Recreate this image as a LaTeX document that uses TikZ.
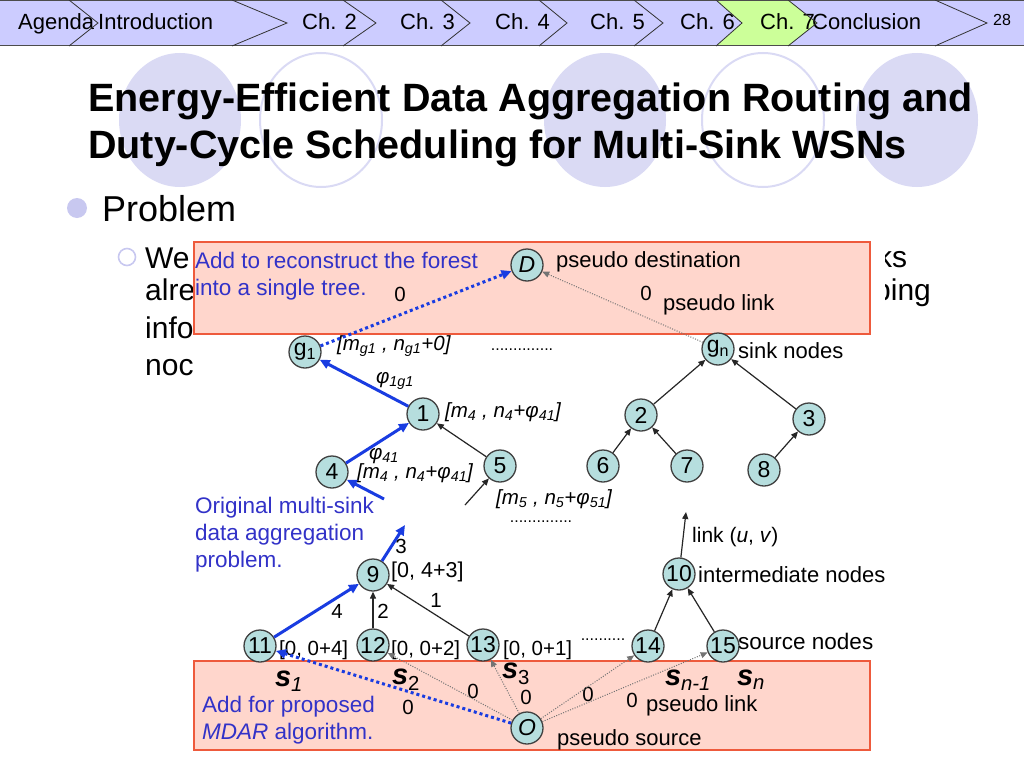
\documentclass[tikz,border=0pt]{standalone}
\usepackage{fontspec}
\setmainfont{Liberation Sans}
\usepackage{tikz}
\usetikzlibrary{arrows.meta,positioning}
\usepackage{xcolor}

\definecolor{navbg}{RGB}{204,204,255}
\definecolor{navgreen}{RGB}{204,255,153}
\definecolor{lav}{RGB}{218,218,244}
\definecolor{lavdot}{RGB}{200,200,240}
\definecolor{boxpink}{RGB}{255,214,204}
\definecolor{boxred}{RGB}{238,90,60}
\definecolor{nodefill}{RGB}{182,222,222}
\definecolor{noteblue}{RGB}{50,50,200}
\definecolor{linkblue}{RGB}{25,60,225}

\newcommand{\fsz}[1]{\fontsize{#1}{#1}\selectfont}

\begin{document}
\begin{tikzpicture}[x=1pt, y=-1pt,
  navtxt/.style={anchor=base west, inner sep=0pt, font=\fsz{22}},
  chev/.style={draw=black!80, line width=0.8pt},
  title/.style={anchor=base west, inner sep=0pt, font=\fsz{39.5}\bfseries},
  body/.style={anchor=base west, inner sep=0pt, font=\fsz{30}},
  nd/.style={circle, draw=black!75, line width=1.3pt, fill=nodefill,
    minimum size=32pt, inner sep=0pt, font=\fsz{23}},
  lbl/.style={inner sep=1pt, font=\fsz{20.5}},
  txt/.style={anchor=west, inner sep=1pt, font=\fsz{22}},
  note/.style={anchor=west, align=left, inner sep=0pt, text=noteblue,
    font=\fontsize{22.5}{27}\selectfont},
  slab/.style={inner sep=0pt, font=\fsz{29}\bfseries\itshape},
  tree/.style={-{Triangle[length=7pt,width=6pt]}, line width=1.2pt, black!85},
  mdar/.style={-{Triangle[length=10pt,width=9pt]}, line width=3pt, linkblue},
  pblue/.style={mdar, dash pattern=on 3pt off 3pt},
  plink/.style={-{Triangle[length=7pt,width=6pt]}, black!55, line width=1pt,
    dash pattern=on 1pt off 1.5pt},
  pinkbox/.style={fill=boxpink, draw=boxred, line width=1.3pt}]

\useasboundingbox (0,0) rectangle (1024,768);

% navigation bar
\fill[navbg] (0,0) rectangle (1024,46);
\fill[navgreen] (716,0) -- (742,23) -- (716,46) -- (788,46) -- (817,23) -- (788,0) -- cycle;
\draw[black!70, line width=1pt] (0,0.5) -- (1024,0.5) (0,46) -- (1024,46);
\foreach \x/\t/\nm in {18/Agenda/agenda, 98/Introduction/intro, 302/Ch. 2/ch2,
    400/Ch. 3/ch3, 495/Ch. 4/ch4, 590/Ch. 5/ch5, 680/Ch. 6/ch6, 760/Ch. 7/ch7,
    812/Conclusion/concl}
  \node[navtxt] (\nm) at (\x,30) {\t};
\node[navtxt, font=\fsz{16}] (page) at (993,26) {28};
\foreach \a/\b in {69/98, 232/287, 343/376, 441/470, 539/567, 634/663, 716/742, 788/817, 935/987}
  \draw[chev] (\a,0) -- (\b,23) -- (\a,46);

% title with background circles
\foreach \x in {180,605,917} \fill[lav] (\x,120) ellipse (61 and 67);
\foreach \x in {321,763} \draw[lav, line width=2pt] (\x,120) ellipse (61 and 67);
\node[title] (title1) at (88,111) {Energy-Efficient Data Aggregation Routing and};
\node[title] (title2) at (88,158) {Duty-Cycle Scheduling for Multi-Sink WSNs};

% bullets
\fill[lavdot] (77,208) circle (10);
\node[body, font=\fsz{36}] (prob) at (102,221) {Problem};
\draw[lavdot, line width=1.6pt] (127,257) circle (8.5);
\node[body] (we) at (145,268) {We};
\node[body] (alre) at (145,300) {alre};
\node[body] (info) at (145,338) {info};
\node[body] (noc) at (145,375) {noc};
\node[body] (ks) at (877,267) {ks};
\node[body] (ping) at (874,300) {ping};

% figure
\fill[white] (193,238) rectangle (885,758);
\draw[pinkbox] (194,242) rectangle (870,334);
\draw[pinkbox] (194,661) rectangle (870,750);

\node[note] (fortxt) at (195,276) {Add to reconstruct the forest\\into a single tree.};
\node[note] (origtxt) at (195,535) {Original multi-sink\\data aggregation\\problem.};
\node[note] (addtxt) at (202,720) {Add for proposed\\\textit{MDAR} algorithm.};

\node[nd] (D) at (527,265) {\textit{D}};
\node[nd] (g1) at (305,352) {g\textsubscript{1}};
\node[nd] (gn) at (718,349) {g\textsubscript{n}};
\node[nd] (n1) at (423,414) {1};
\node[nd] (n2) at (641,415) {2};
\node[nd] (n3) at (809,419) {3};
\node[nd] (n4) at (332,472) {4};
\node[nd] (n5) at (500,466) {5};
\node[nd] (n6) at (603,466) {6};
\node[nd] (n7) at (687,466) {7};
\node[nd] (n8) at (764,470) {8};
\node[nd] (n9) at (373,575) {9};
\node[nd] (n10) at (679,574) {10};
\node[nd] (n11) at (260,646) {11};
\node[nd] (n12) at (373,645) {12};
\node[nd] (n13) at (483,645) {13};
\node[nd] (n14) at (648,646) {14};
\node[nd] (n15) at (723,646) {15};
\node[nd] (O) at (527,728) {\textit{O}};

\coordinate (in4) at (384,499);
\coordinate (in5) at (465,505);
\coordinate (out9) at (405,525);
\coordinate (out10) at (686,512);

% node texts
\node[txt] (pdest) at (555,262) {pseudo destination};
\node[txt] (plinktop) at (662,305) {pseudo link};
\node[lbl] (z1) at (400,294) {0};
\node[lbl] (z2) at (646,293) {0};
\node[txt] (sink) at (737,351) {sink nodes};
\node[lbl, anchor=west] (g1lab) at (336,346) {\textit{[m\textsubscript{g1} , n\textsubscript{g1}+0]}};
\node[lbl, font=\fsz{16}] (dots1) at (522,350) {..............};
\node[lbl] (phi1) at (395,381) {\textit{φ\textsubscript{1g1}}};
\node[lbl] (phi4) at (384,456) {\textit{φ\textsubscript{41}}};
\node[lbl, anchor=west] (n1lab) at (444,412) {\textit{[m\textsubscript{4} , n\textsubscript{4}+φ\textsubscript{41}]}};
\node[lbl, anchor=west] (n4lab) at (356,473) {\textit{[m\textsubscript{4} , n\textsubscript{4}+φ\textsubscript{41}]}};
\node[lbl, anchor=west] (n5lab) at (495,499) {\textit{[m\textsubscript{5} , n\textsubscript{5}+φ\textsubscript{51}]}};
\node[lbl, font=\fsz{16}] (dots2) at (541,522) {..............};
\node[lbl, anchor=west, font=\fsz{21.5}] (n9lab) at (390,572) {[0, 4+3]};
\node[lbl] (w3) at (401,546) {3};
\node[lbl] (w4) at (337,611) {4};
\node[lbl] (w2) at (383,611) {2};
\node[lbl] (w1) at (436,600) {1};
\node[lbl, anchor=west] (n11lab) at (278,650) {[0, 0+4]};
\node[lbl, anchor=west] (n12lab) at (390,650) {[0, 0+2]};
\node[lbl, anchor=west] (n13lab) at (502,650) {[0, 0+1]};
\node[lbl, font=\fsz{16}] (dots3) at (603,640) {..........};
\node[txt, font=\fsz{21}] (linkuv) at (691,537) {link (\textit{u}, \textit{v})};
\node[txt] (inter) at (697,575) {intermediate nodes};
\node[txt, font=\fsz{22.5}] (srcn) at (737,641) {source nodes};

\node[slab] (s1) at (289,681) {s\textsubscript{\normalfont\itshape 1}};
\node[slab] (s2) at (406,680) {s\textsubscript{\normalfont 2}};
\node[slab] (s3) at (516,674) {s\textsubscript{\normalfont 3}};
\node[slab] (sn1) at (688,680) {s\textsubscript{\normalfont\itshape n-1}};
\node[slab] (sn) at (751,680) {s\textsubscript{\normalfont\itshape n}};

\node[lbl] (z3) at (408,707) {0};
\node[lbl] (z4) at (473,691) {0};
\node[lbl] (z5) at (526,697) {0};
\node[lbl] (z6) at (588,694) {0};
\node[lbl] (z7) at (632,700) {0};
\node[txt] (plinkbot) at (645,706) {pseudo link};
\node[txt] (psrc) at (556,740) {pseudo source};

% links
\draw[pblue] (g1) -- (D);
\draw[plink] (gn) -- (D);
\draw[mdar] (n1) -- (g1);
\draw[mdar] (n4) -- (n1);
\draw[mdar] (in4) -- (n4);
\draw[tree] (n5) -- (n1);
\draw[tree] (in5) -- (n5);
\draw[tree] (n2) -- (gn);
\draw[tree] (n3) -- (gn);
\draw[tree] (n6) -- (n2);
\draw[tree] (n7) -- (n2);
\draw[tree] (n8) -- (n3);
\draw[mdar] (n9) -- (out9);
\draw[mdar] (n11) -- (n9);
\draw[tree] (n12) -- (n9);
\draw[tree] (n13) -- (n9);
\draw[tree] (n10) -- (out10);
\draw[tree] (n14) -- (n10);
\draw[tree] (n15) -- (n10);
\draw[pblue] (O) -- (n11);
\foreach \t in {n12,n13,n14,n15}
  \draw[plink] (O) -- (\t);

\end{tikzpicture}
\end{document}
